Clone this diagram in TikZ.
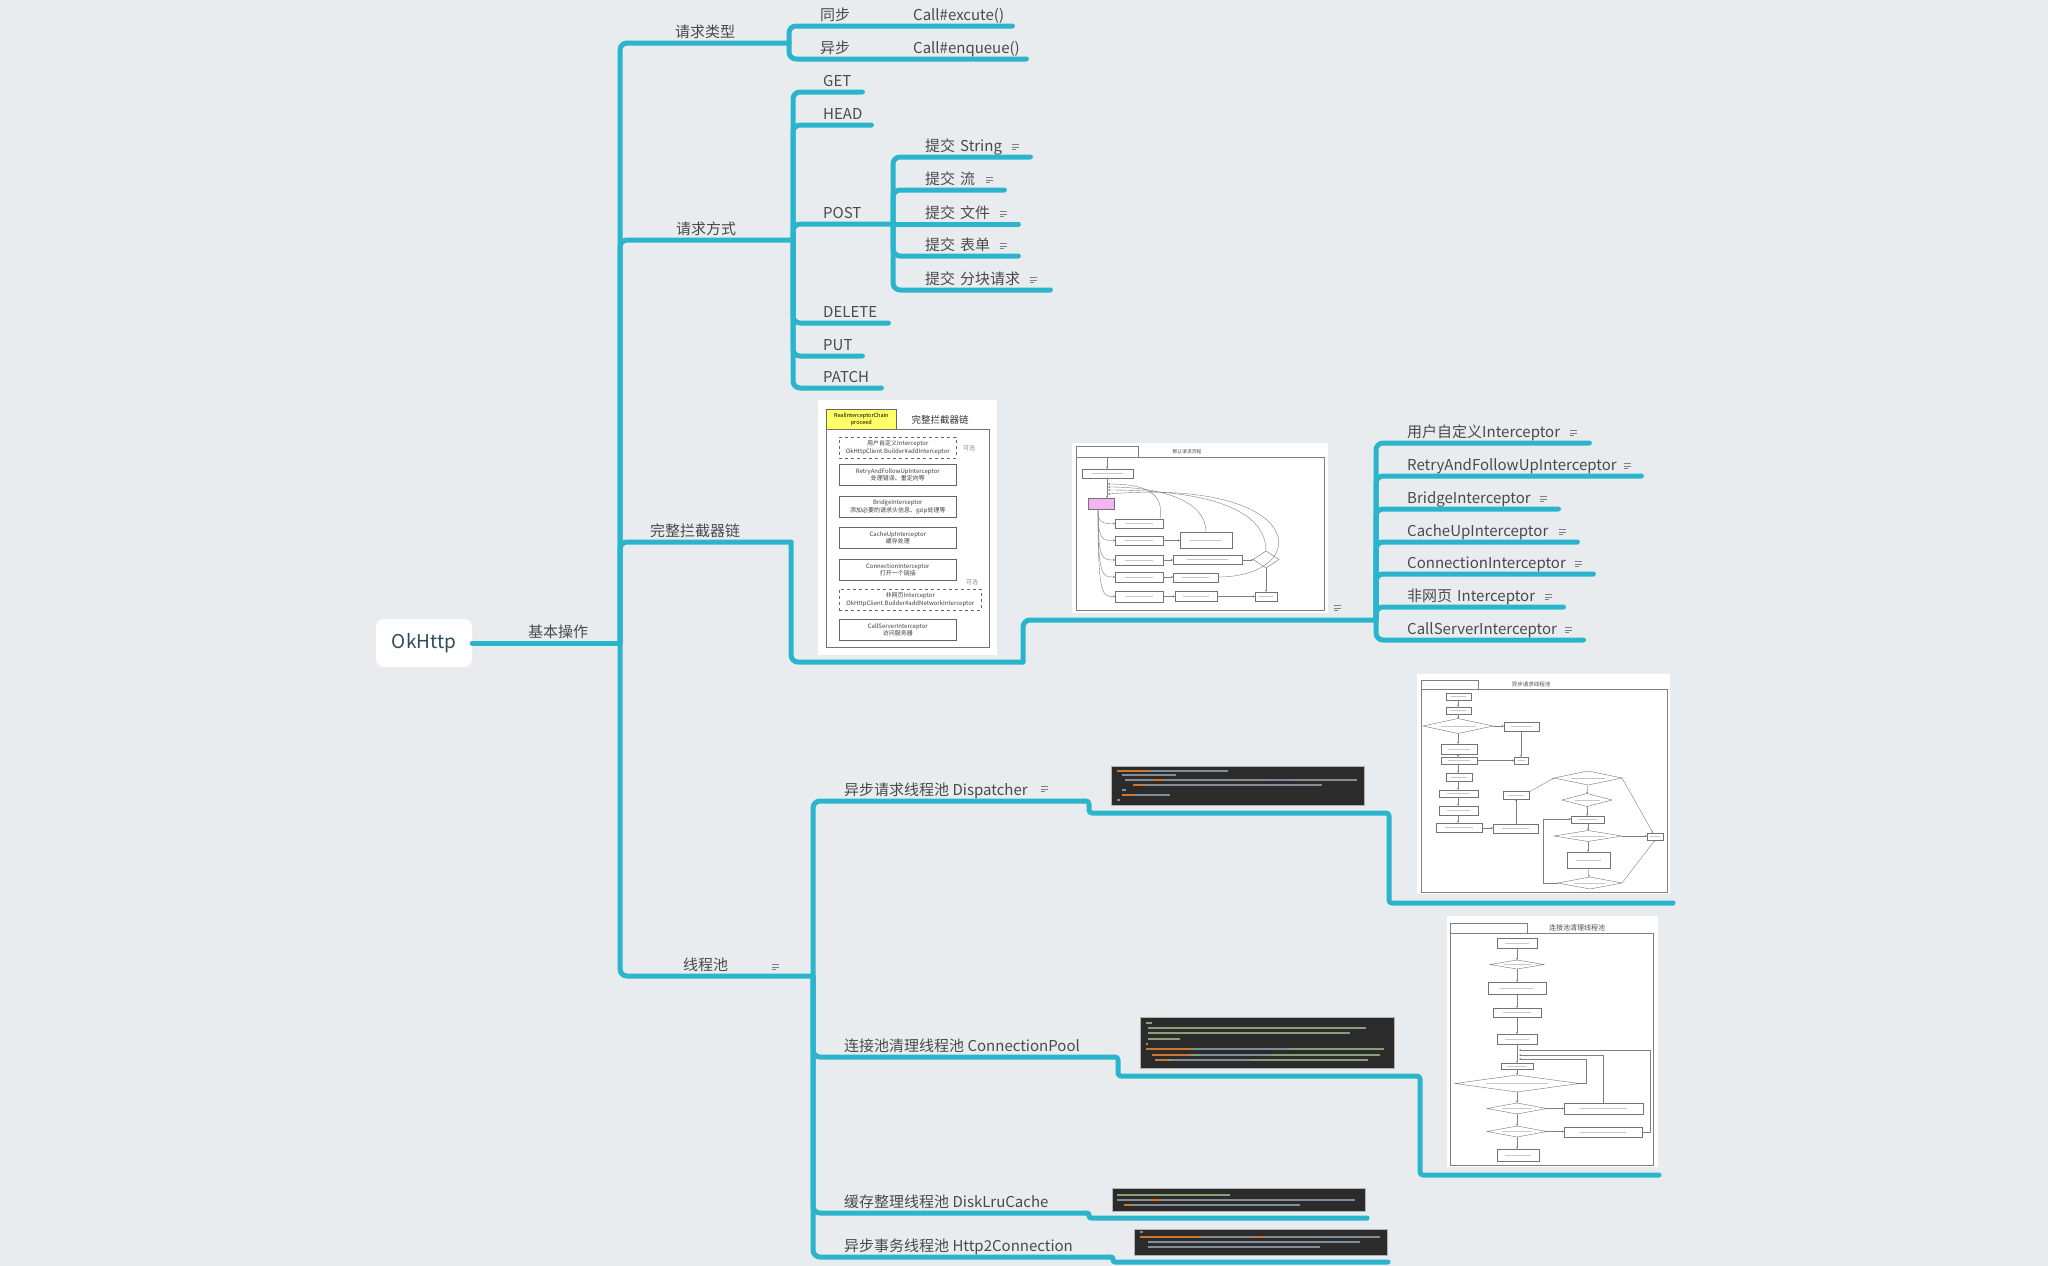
\documentclass[tikz,border=0pt]{standalone}
\usepackage{fontspec}
\setmainfont{Noto Sans CJK SC}
\usetikzlibrary{calc,arrows.meta,positioning}
\usepackage{xcolor}
\definecolor{mapBg}{HTML}{E8ECEF}
\definecolor{mapLine}{HTML}{2BB5CC}
\definecolor{mapText}{HTML}{4A4A4A}
\definecolor{rootText}{HTML}{2E4D5C}
\definecolor{codeBg}{HTML}{2B2B2B}
\definecolor{codeKey}{HTML}{CC7832}
\definecolor{codePlain}{HTML}{A9B7C6}
\definecolor{codePurple}{HTML}{9876AA}
\definecolor{codeGreen}{HTML}{6A8759}
\definecolor{chainYellow}{HTML}{FFFF66}
\definecolor{chainPink}{HTML}{F2B5F0}

\begin{document}
\begin{tikzpicture}[x=1pt, y=-1pt, font=\fontsize{15}{18}\selectfont,
  topic/.style={anchor=south west, inner xsep=0pt, inner ysep=2pt, text height=11pt,
    text depth=3pt, text=mapText, align=left},
  rootbox/.style={rectangle, rounded corners=8pt, fill=white, minimum width=96pt,
    minimum height=48pt, text=rootText, font=\fontsize{19}{22}\selectfont},
  link/.style={draw=mapLine, line width=5pt, rounded corners=7pt, line cap=round, line join=round},
  steplink/.style={link, rounded corners=3pt},
  picbox/.style={rectangle, fill=white, inner sep=0pt, anchor=north west},
  codebox/.style={rectangle, fill=codeBg, draw=black!30, line width=0.5pt, inner sep=0pt, anchor=north west},
  codetext/.style={draw=codePlain!70!codeBg, line width=1.3pt},
  codekey/.style={draw=codeKey, line width=1.3pt},
  codecomment/.style={draw=codeGreen!80!white, line width=1.3pt},
  memoline/.style={draw=black!50, line width=1pt},
  memo/.pic={\draw[memoline] (-3.5,-2.5) -- (3.5,-2.5) (-3.5,0) -- (3.5,0) (-3.5,2.5) -- (1,2.5);},
  chainbox/.style={rectangle, draw=black!60, line width=0.6pt, minimum width=117pt, minimum height=21pt,
    inner sep=0pt, anchor=north west, align=center, font=\fontsize{6}{7.5}\selectfont, text=black!75},
  chart/.style={draw=black!50, line width=0.4pt},
  chartarrow/.style={chart, -{Stealth[length=2pt,width=2pt]}},
  chartbox/.style={draw=black!55, line width=0.4pt, fill=white},
  chartsmudge/.style={draw=black!22, line width=1pt},
  charttitle/.style={inner sep=0pt, text=black!70}]

\useasboundingbox (0,0) rectangle (2048,1266);
\fill[mapBg] (0,0) rectangle (2048,1266);

% root and first level
\node[rootbox] (root) at (424,643) {OkHttp};
\node[topic] (jbcz) at (528,643) {基本操作};
\coordinate (jb) at (620,643);
\node[topic] (qqlx) at (675,43) {请求类型};
\coordinate (jlx) at (789,43);
\node[topic] (qqfs) at (676,240) {请求方式};
\coordinate (jfs) at (793,240);
\node[topic] (ljq) at (650,542) {完整拦截器链};
\coordinate (jlj) at (791,542);
\node[topic] (xcc) at (683,976) {线程池};
\coordinate (jxc) at (813,976);
\pic at (775,967) {memo};

% request type
\node[topic] (tb) at (820,26) {同步};
\node[topic, text width=99pt] (callx) at (913,26) {Call\#excute()};
\node[topic] (yb) at (820,59) {异步};
\node[topic, text width=113pt] (calle) at (913,59) {Call\#enqueue()};

% request method
\node[topic, text width=39pt] (get) at (823,92) {GET};
\node[topic, text width=48pt] (head) at (823,125) {HEAD};
\node[topic] (post) at (823,224) {POST};
\coordinate (jpost) at (893,224);
\node[topic, text width=65pt] (del) at (823,323) {DELETE};
\node[topic, text width=39pt] (put) at (823,356) {PUT};
\node[topic, text width=58pt] (patch) at (823,388) {PATCH};

\node[topic, text width=105pt] (ps1) at (925,157) {提交 String};
\node[topic, text width=79pt] (ps2) at (925,190) {提交 流};
\node[topic, text width=93pt] (ps3) at (925,224) {提交 文件};
\node[topic, text width=93pt] (ps4) at (925,256) {提交 表单};
\node[topic, text width=125pt] (ps5) at (925,290) {提交 分块请求};
\pic at (1015,147) {memo};
\pic at (989,180) {memo};
\pic at (1003,214) {memo};
\pic at (1003,246) {memo};
\pic at (1033,280) {memo};

% interceptor chain pictures
\node[picbox, minimum width=179pt, minimum height=255pt] (img1) at (818,400) {};
\node[draw=black!60, fill=chainYellow, line width=0.6pt, minimum width=70pt, minimum height=20pt,
  inner sep=0pt, anchor=north west, align=center, font=\fontsize{5.5}{6.5}\selectfont] (rcp) at (826,409)
  {RealInterceptorChain\\proceed};
\node[charttitle, font=\fontsize{9.5}{11}\selectfont, text=black!80] (chaintitle) at (940,420) {完整拦截器链};
\draw[draw=black!55, line width=0.6pt] (826,429) rectangle (989,647);
\node[chainbox, dashed] (c1) at (839,437) {用户自定义Interceptor\\OkHttpClient.Builder\#addInterceptor};
\node[chainbox] (c2) at (839,464) {RetryAndFollowUpInterceptor\\处理错误、重定向等};
\node[chainbox] (c3) at (839,496) {BridgeInterceptor\\添加必要的请求头信息、gzip处理等};
\node[chainbox] (c4) at (839,527) {CacheUpInterceptor\\缓存处理};
\node[chainbox] (c5) at (839,559) {ConnectionInterceptor\\打开一个链接};
\node[chainbox, dashed, minimum width=142pt] (c6) at (839,589) {非网页Interceptor\\OkHttpClient.Builder\#addNetworkInterceptor};
\node[chainbox] (c7) at (839,619) {CallServerInterceptor\\访问服务器};
\node[charttitle, font=\fontsize{6}{7}\selectfont, text=black!45] (opt1) at (969,448) {可选};
\node[charttitle, font=\fontsize{6}{7}\selectfont, text=black!45] (opt2) at (972,582) {可选};
\coordinate (jimg1) at (1023,662);

\node[picbox, minimum width=256pt, minimum height=170pt] (img2) at (1072,443) {};
\draw[chart] (1076,446) rectangle (1138,457) (1076,457) rectangle (1324,610);
\node[charttitle, font=\fontsize{4.8}{5}\selectfont] (flowtitle) at (1187,452) {默认请求流程};
\foreach \xa/\ya/\xb/\yb in {1082/469/1133/478,1115/519/1163/528,1115/536/1163/545,1115/555/1163/565,
    1115/572/1163/582,1115/591/1163/602,1180/532/1232/548,1173/555/1242/564,1173/573/1218/582,
    1175/591/1217/601,1255/592/1277/601}{
  \draw[chartbox] (\xa,\ya) rectangle (\xb,\yb);
  \draw[chartsmudge] ({\xa+(\xb-\xa)*0.2},{(\ya+\yb)/2}) -- ({\xb-(\xb-\xa)*0.2},{(\ya+\yb)/2});
}
\draw[chartbox, fill=chainPink] (1088,498) rectangle (1114,509);
\draw[chartbox] (1253,559.5) -- (1266,551) -- (1279,559.5) -- (1266,568) -- cycle;
\draw[chartarrow] (1107,457) -- (1107,469);
\draw[chartarrow] (1107,478) -- (1107,498);
\foreach \yy in {523.5,540.5,560,577,596.5}
  \draw[chartarrow] (1098,509) .. controls (1098,\yy) and (1102,\yy) .. (1115,\yy);
\draw[chartarrow] (1163,540.5) -- (1180,540.5);
\draw[chartarrow] (1163,560) -- (1173,560);
\draw[chartarrow] (1163,577) -- (1173,577);
\draw[chartarrow] (1163,596.5) -- (1175,596.5);
\draw[chartarrow] (1242,560) -- (1253,560);
\draw[chartarrow] (1217,596.5) -- (1255,596.5);
\draw[chartarrow] (1266,568) -- (1266,592);
\draw[chartarrow] (1160,519) .. controls (1165,490) and (1140,484) .. (1108,484);
\draw[chartarrow] (1206,532) .. controls (1206,500) and (1160,487) .. (1108,487);
\draw[chartarrow] (1266,551) .. controls (1266,500) and (1180,490) .. (1108,490);
\draw[chartarrow] (1218,577) .. controls (1312,577) and (1312,478) .. (1108,494);
\pic at (1337,608) {memo};
\coordinate (jimg2) at (1376,620);

% interceptors
\node[topic, text width=182pt] (ic1) at (1407,443) {用户自定义Interceptor};
\node[topic, text width=234pt] (ic2) at (1407,476) {RetryAndFollowUpInterceptor};
\node[topic, text width=151pt] (ic3) at (1407,509) {BridgeInterceptor};
\node[topic, text width=170pt] (ic4) at (1407,542) {CacheUpInterceptor};
\node[topic, text width=186pt] (ic5) at (1407,574) {ConnectionInterceptor};
\node[topic, text width=156pt] (ic6) at (1407,607) {非网页 Interceptor};
\node[topic, text width=176pt] (ic7) at (1407,640) {CallServerInterceptor};
\foreach \xx/\yy in {1573/433,1627/466,1543/499,1562/532,1578/564,1548/597,1568/630}
  \pic at (\xx,\yy) {memo};

% thread pools
\node[topic] (dsp) at (844,801) {异步请求线程池 Dispatcher};
\coordinate (jdsp) at (1083,801);
\pic at (1044,789) {memo};
\node[topic] (cpl) at (844,1057) {连接池清理线程池 ConnectionPool};
\coordinate (jcpl) at (1112,1057);
\node[topic] (dlc) at (844,1213) {缓存整理线程池 DiskLruCache};
\coordinate (jdlc) at (1084,1213);
\node[topic] (h2c) at (844,1257) {异步事务线程池 Http2Connection};
\coordinate (jh2c) at (1108,1257);

\node[codebox, minimum width=253pt, minimum height=39pt] (code1) at (1111,766) {};
\foreach \yy/\xa/\xb in {771/1117/1228,775/1122/1176,780/1125/1357,785/1133/1322,790/1122/1126,795/1122/1170,800/1117/1120}
  \draw[codetext] (\xa,\yy) -- (\xb,\yy);
\foreach \yy/\xa/\xb in {771/1117/1150,780/1152/1164,785/1133/1145,795/1122/1136}
  \draw[codekey] (\xa,\yy) -- (\xb,\yy);
\draw[codePurple, line width=1.3pt] (1270,780) -- (1290,780);
\coordinate (jcode1) at (1389,813);

\node[codebox, minimum width=254pt, minimum height=51pt] (code2) at (1140,1017) {};
\foreach \yy/\xa/\xb in {1023/1146/1152,1028/1148/1366,1033/1148/1350,1039/1148/1180,1044/1146/1148,1049/1146/1384,1055/1152/1380,1060/1155/1368}
  \draw[codecomment] (\xa,\yy) -- (\xb,\yy);
\foreach \yy/\xa/\xb in {1049/1146/1192,1055/1152/1190,1060/1155/1168}
  \draw[codekey] (\xa,\yy) -- (\xb,\yy);
\draw[codetext] (1192,1049) -- (1290,1049) (1200,1055) -- (1270,1055) (1172,1060) -- (1250,1060);
\coordinate (jcode2) at (1420,1076);

\node[codebox, minimum width=253pt, minimum height=23pt] (code3) at (1112,1188) {};
\draw[codecomment] (1117,1195) -- (1230,1195);
\draw[codetext] (1117,1200) -- (1355,1200) (1124,1205) -- (1300,1205);
\draw[codekey] (1150,1200) -- (1162,1200) (1124,1205) -- (1132,1205);
\coordinate (jcode3) at (1367,1218);

\node[codebox, minimum width=253pt, minimum height=26pt] (code4) at (1134,1229) {};
\draw[codetext] (1140,1232) -- (1143,1232) (1140,1237) -- (1380,1237) (1148,1242) -- (1360,1242) (1148,1247) -- (1320,1247);
\draw[codekey] (1140,1237) -- (1200,1237) (1255,1237) -- (1263,1237);
\coordinate (jcode4) at (1388,1262);

% flow chart: async dispatcher
\node[picbox, minimum width=253pt, minimum height=220pt] (flow1) at (1417,674) {};
\draw[chart] (1421,680) rectangle (1478,689) (1421,689) rectangle (1667,892);
\node[charttitle, font=\fontsize{5.5}{6}\selectfont] (flow1title) at (1531,684) {异步请求线程池};
\foreach \xa/\ya/\xb/\yb in {1446/693/1471/700,1446/707/1471/714,1504/722/1539/731,1441/744/1477/754,
    1441/757/1477/764,1514/757/1528/764,1446/773/1472/781,1439/790/1478/797,1439/806/1478/815,
    1436/823/1482/832,1493/824/1538/833,1503/791/1529/799,1571/816/1604/823,1567/852/1610/868,1647/833/1663/840}{
  \draw[chartbox] (\xa,\ya) rectangle (\xb,\yb);
  \draw[chartsmudge] ({\xa+(\xb-\xa)*0.2},{(\ya+\yb)/2}) -- ({\xb-(\xb-\xa)*0.2},{(\ya+\yb)/2});
}
\foreach \cx/\cy/\hw/\hh in {1458/726/35/7.5,1588/778/34/7,1587/800/25/6.5,1588/836/34/5.5,1590/883/32/6}{
  \draw[chartbox] (\cx-\hw,\cy) -- (\cx,\cy-\hh) -- (\cx+\hw,\cy) -- (\cx,\cy+\hh) -- cycle;
  \draw[chartsmudge] ({\cx-\hw*0.5},\cy) -- ({\cx+\hw*0.5},\cy);
}
\foreach \ya/\yb in {700/707,714/718.5,733.5/744,754/757,764/773,781/790,797/806,815/823}
  \draw[chartarrow] (1458,\ya) -- (1458,\yb);
\draw[chartarrow] (1493,726) -- (1504,726);
\draw[chartarrow] (1521,731) -- (1521,757);
\draw[chartarrow] (1477,760.5) -- (1514,760.5);
\draw[chartarrow] (1482,828) -- (1493,828);
\draw[chartarrow] (1516,824) -- (1516,799);
\draw[chartarrow] (1529,792) -- (1554,778);
\draw[chartarrow] (1588,785) -- (1587,793.5);
\draw[chartarrow] (1587,806.5) -- (1587,816);
\draw[chartarrow] (1588,823) -- (1588,830.5);
\draw[chartarrow] (1588,841.5) -- (1588,852);
\draw[chartarrow] (1588,868) -- (1589,877);
\draw[chartarrow] (1622,778) -- (1653,833);
\draw[chartarrow] (1622,836) -- (1647,836);
\draw[chartarrow] (1622,883) -- (1655,840);
\draw[chartarrow] (1558,883) -| (1543,819) -- (1571,819);
\coordinate (jflow1) at (1673,903);

% flow chart: connection pool cleanup
\node[picbox, minimum width=211pt, minimum height=251pt] (flow2) at (1447,916) {};
\draw[chart] (1450,923) rectangle (1527,933) (1450,933) rectangle (1653,1165);
\node[charttitle, font=\fontsize{7}{8}\selectfont] (flow2title) at (1577,928) {连接池清理线程池};
\foreach \xa/\ya/\xb/\yb in {1497/938/1537/948,1488/982/1546/994,1493/1008/1541/1017,1497/1034/1537/1044,
    1501/1063/1533/1069,1564/1103/1643/1114,1564/1127/1642/1137,1497/1149/1539/1161}{
  \draw[chartbox] (\xa,\ya) rectangle (\xb,\yb);
  \draw[chartsmudge] ({\xa+(\xb-\xa)*0.2},{(\ya+\yb)/2}) -- ({\xb-(\xb-\xa)*0.2},{(\ya+\yb)/2});
}
\foreach \cx/\cy/\hw/\hh in {1517/964.5/27/4.5,1517/1083.5/62/8.5,1517/1108.5/30/5.5,1517/1131.5/30/5.5}{
  \draw[chartbox] (\cx-\hw,\cy) -- (\cx,\cy-\hh) -- (\cx+\hw,\cy) -- (\cx,\cy+\hh) -- cycle;
  \draw[chartsmudge] ({\cx-\hw*0.5},\cy) -- ({\cx+\hw*0.5},\cy);
}
\foreach \ya/\yb in {948/960,969/982,994/1008,1017/1034,1044/1063,1069/1075,1092/1103,1114/1126,1137/1149}
  \draw[chartarrow] (1517,\ya) -- (1517,\yb);
\draw[chartarrow] (1547,1108.5) -- (1564,1108.5);
\draw[chartarrow] (1547,1131.5) -- (1564,1131.5);
\draw[chartarrow] (1579,1083.5) -- (1586,1083.5) |- (1519,1059);
\draw[chartarrow] (1603,1103) |- (1519,1055);
\draw[chartarrow] (1642,1132) -| (1650,1050) -- (1519,1050);
\coordinate (jflow2) at (1659,1175);

% connectors
\draw[link] (root.east) -- (jb);
\draw[link] (jb) |- (qqlx.south west) -- (jlx);
\draw[link] (jb) |- (qqfs.south west) -- (jfs);
\draw[link] (jb) |- (ljq.south west) -- (jlj);
\draw[link] (jb) |- (xcc.south west) -- (jxc);

\draw[link] (jlx) |- (tb.south west) -- (callx.south east);
\draw[link] (jlx) |- (yb.south west) -- (calle.south east);

\foreach \n in {get,head,del,put,patch}
  \draw[link] (jfs) |- (\n.south west) -- (\n.south east);
\draw[link] (jfs) |- (post.south west) -- (jpost);
\foreach \n in {ps1,ps2,ps4,ps5}
  \draw[link] (jpost) |- (\n.south west) -- (\n.south east);
\draw[link] (jpost) -- (ps3.south east);

\draw[link] (jlj) |- (jimg1);
\draw[link] (jimg1) |- (jimg2);
\foreach \n in {ic1,ic2,ic3,ic4,ic5,ic6,ic7}
  \draw[link] (jimg2) |- (\n.south west) -- (\n.south east);

\draw[link] (jxc) |- (dsp.south west) -- (jdsp);
\draw[link] (jxc) |- (cpl.south west) -- (jcpl);
\draw[link] (jxc) |- (dlc.south west) -- (jdlc);
\draw[link] (jxc) |- (h2c.south west) -- (jh2c);
\draw[steplink] (jdsp) -- ++(6,0) |- (jcode1) |- (jflow1);
\draw[steplink] (jcpl) -- ++(6,0) |- (jcode2) |- (jflow2);
\draw[steplink, rounded corners=2pt] (jdlc) -- ++(5,0) |- (jcode3);
\draw[steplink, rounded corners=2pt] (jh2c) -- ++(5,0) |- (jcode4);
\end{tikzpicture}
\end{document}
